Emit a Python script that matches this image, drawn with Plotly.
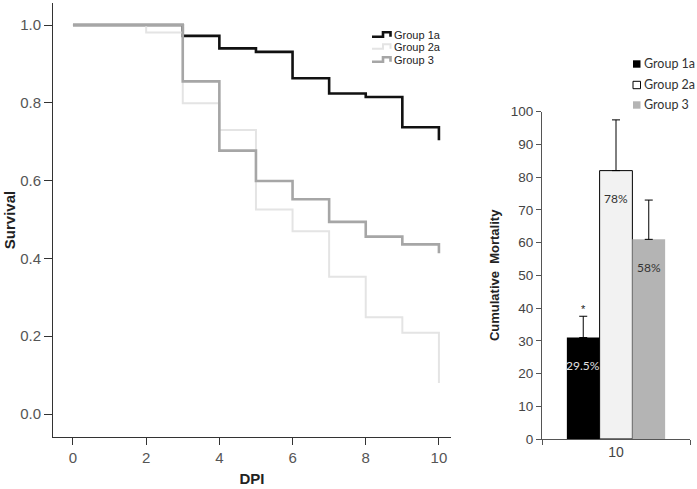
import plotly.graph_objects as go

W, H = 697, 489

# ---------------- data ----------------
days = [0, 1, 2, 3, 4, 5, 6, 7, 8, 9, 10]
surv_group1a = [1.0, 1.0, 1.0, 0.972, 0.940, 0.931, 0.863, 0.824, 0.815, 0.737, 0.704]
surv_group2a = [1.0, 1.0, 0.981, 0.799, 0.730, 0.526, 0.470, 0.353, 0.249, 0.209, 0.080]
surv_group3 = [1.0, 1.0, 1.0, 0.855, 0.677, 0.599, 0.552, 0.494, 0.456, 0.436, 0.413]

group_names = ["Group 1a", "Group 2a", "Group 3"]
bar_category = ["10"]
mortality = [31.0, 82.0, 61.0]
mortality_err = [6.5, 15.5, 12.0]
mortality_labels = ["29.5%", "78%", "58%"]
significance = ["*", "", ""]

surv_ticks = [0.0, 0.2, 0.4, 0.6, 0.8, 1.0]
dpi_ticks = [0, 2, 4, 6, 8, 10]

# ---------------- styles ----------------
line_colors = ["#111111", "#e4e4e4", "#a6a6a6"]
line_widths = [2.6, 2.0, 2.6]
bar_colors = ["#000000", "#f2f2f2", "#b4b4b4"]
bar_lines = [0, 1, 0]
label_colors = ["#e0e0e0", "#333333", "#333333"]
bar_offsets_px = [-33, 0, 33]
cat_index = 0  # position of the single category on the bar chart's x axis

def px(x):
    return x / W

def py(y):
    return 1 - y / H

fig = go.Figure()

# Kaplan-Meier step curves
for name, ys, c, w in zip(group_names, [surv_group1a, surv_group2a, surv_group3], line_colors, line_widths):
    fig.add_trace(go.Scatter(
        x=days, y=ys, mode="lines", line=dict(color=c, width=w, shape="hv"),
        name=name, showlegend=False, xaxis="x", yaxis="y", hoverinfo="x+y+name"))

# Cumulative mortality bars
for i, name in enumerate(group_names):
    fig.add_trace(go.Bar(
        x=bar_category, y=[mortality[i]], name=name, showlegend=False,
        marker=dict(color=bar_colors[i], line=dict(color="#000000", width=bar_lines[i])),
        error_y=dict(type="data", symmetric=False, array=[mortality_err[i]], arrayminus=[0],
                     color="#000000", thickness=1, width=4),
        xaxis="x2", yaxis="y2"))

# value labels inside bars and significance star
for i in range(len(group_names)):
    fig.add_annotation(x=cat_index, y=mortality[i], xref="x2", yref="y2",
                       text=mortality_labels[i], showarrow=False,
                       xshift=bar_offsets_px[i], yshift=-28,
                       font=dict(family="Lato, Liberation Sans, Arial", size=12,
                                 color=label_colors[i]))
    if significance[i]:
        fig.add_annotation(x=cat_index, y=mortality[i] + mortality_err[i], xref="x2", yref="y2",
                           text=significance[i], showarrow=False, xshift=bar_offsets_px[i], yshift=7,
                           font=dict(family="Liberation Sans, Arial", size=11, color="#222"))

# legend for the survival curves (step icons)
leg_rows = [35.5, 47.5, 60.5]
for name, c, w, yc in zip(group_names, line_colors, line_widths, leg_rows):
    path = "M{:.5f},{:.5f} L{:.5f},{:.5f} L{:.5f},{:.5f} L{:.5f},{:.5f} L{:.5f},{:.5f}".format(
        px(372), py(yc + 1.3), px(383), py(yc + 1.3), px(383), py(yc - 3.2),
        px(390.5), py(yc - 3.2), px(390.5), py(yc + 1.3))
    fig.add_shape(type="path", path=path, xref="paper", yref="paper",
                  line=dict(color=c, width=w))
    fig.add_annotation(x=px(392), y=py(yc), xref="paper", yref="paper", xanchor="left",
                       yanchor="middle", text=name, showarrow=False,
                       font=dict(family="Liberation Sans, Arial", size=11, color="#222"))

# legend for the bars (square icons)
bar_leg_rows = [64, 85, 105]
for i, (name, yc) in enumerate(zip(group_names, bar_leg_rows)):
    fig.add_shape(type="rect", xref="paper", yref="paper",
                  x0=px(633), x1=px(640.5), y0=py(yc + 3.7), y1=py(yc - 3.7),
                  fillcolor=bar_colors[i] if i != 1 else "#ffffff",
                  line=dict(color="#000000", width=1 if i == 1 else 0))
    fig.add_annotation(x=px(641.5), y=py(yc), xref="paper", yref="paper", xanchor="left",
                       yanchor="middle", text=name, showarrow=False,
                       font=dict(family="Lato, Liberation Sans, Arial", size=12.5, color="#333"))

tickfont_left = dict(family="Liberation Sans Narrow, Liberation Sans, Arial", size=15, color="#555")

fig.update_layout(
    width=W, height=H, margin=dict(l=0, r=0, t=0, b=0),
    paper_bgcolor="white", plot_bgcolor="white",
    barmode="group", bargap=0.336, bargroupgap=0,
    showlegend=False,
    xaxis=dict(domain=[px(53), px(451)], range=[-0.546, 10.33], anchor="y", automargin=False,
               tickvals=dpi_ticks, ticks="outside", ticklen=7, tickcolor="#333",
               showline=True, linecolor="#333", linewidth=1, showgrid=False, zeroline=False,
               tickfont=tickfont_left,
               title=dict(text="<b>DPI</b>", standoff=8,
                          font=dict(family="Liberation Sans, Arial", size=15, color="#222"))),
    yaxis=dict(domain=[py(437), py(3)], range=[-0.0591, 1.0566], anchor="x", automargin=False,
               tickvals=surv_ticks, tickformat=".1f", ticks="outside", ticklen=8, tickcolor="#333",
               showline=True, linecolor="#333", linewidth=1, showgrid=False, zeroline=False,
               tickfont=tickfont_left,
               title=dict(text="<b>Survival</b>", standoff=0,
                          font=dict(family="Liberation Sans, Arial", size=15, color="#222"))),
    xaxis2=dict(domain=[px(542), px(690)], range=[-0.5, 0.5], anchor="y2", type="category",
                automargin=False,
                ticks="outside", tickson="boundaries", ticklen=5, tickcolor="#555",
                showline=True, linecolor="#555", linewidth=1, showgrid=False, zeroline=False,
                tickfont=dict(family="Liberation Sans, Arial", size=14, color="#444")),
    yaxis2=dict(domain=[py(439), py(111.7)], range=[0, 100], anchor="x2", automargin=False,
                dtick=10, ticks="outside", ticklen=5, tickcolor="#555",
                showline=True, linecolor="#555", linewidth=1, showgrid=False, zeroline=False,
                tickfont=dict(family="Liberation Sans, Arial", size=13.5, color="#444"),
                title=dict(text="<b>Cumulative\u00a0 Mortality</b>", standoff=8,
                           font=dict(family="Liberation Sans, Arial", size=13, color="#222"))),
)

fig.write_html("out.html", config={"displayModeBar": False},
               post_script="document.body.style.margin='0';")
